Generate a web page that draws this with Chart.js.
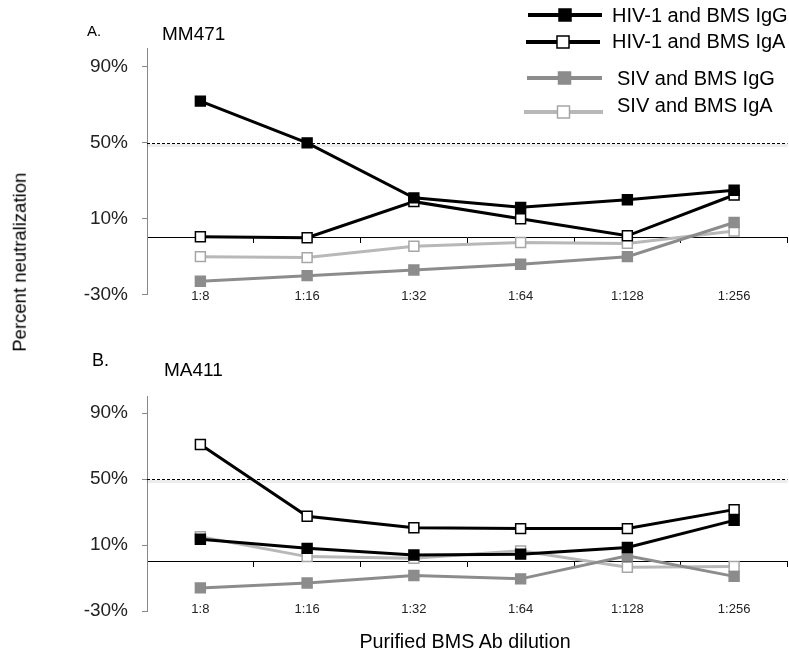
<!DOCTYPE html>
<html>
<head>
<meta charset="utf-8">
<script src="https://cdn.jsdelivr.net/npm/chart.js@4.4.1/dist/chart.umd.min.js"></script>
<style>
  body { margin: 0; background: #fff; overflow: hidden; font-family: "Liberation Sans", Arial, sans-serif; }
  #wrap { position: relative; width: 789px; height: 653px; overflow: hidden; }
  canvas { position: absolute; left: 0; }
  #chartA { top: 0; }
  #chartB { top: 320px; }
  .txt { position: absolute; color: #000; white-space: nowrap; line-height: 1; }
</style>
</head>
<body>
<div id="wrap">
  <canvas id="chartA" width="796" height="320"></canvas>
  <canvas id="chartB" width="796" height="333"></canvas>

  <div class="txt" style="left:87px;top:23px;font-size:15px;">A.</div>
  <div class="txt" style="left:162px;top:24px;font-size:19px;">MM471</div>
  <div class="txt" style="left:92px;top:351px;font-size:18px;">B.</div>
  <div class="txt" style="left:164px;top:360px;font-size:19px;">MA411</div>

  <div class="txt" style="left:-130px;top:253px;width:300px;text-align:center;font-size:18.5px;transform:rotate(-90deg);">Percent neutralization</div>
  <div class="txt" style="left:315px;top:632px;width:300px;text-align:center;font-size:19.7px;">Purified BMS Ab dilution</div>
</div>

<script>
const dilutions = ['1:8', '1:16', '1:32', '1:64', '1:128', '1:256'];
const yTicks = [-30, 10, 50, 90];
const refLineValue = 50;
const seriesNames = ['HIV-1 and BMS IgG', 'HIV-1 and BMS IgA', 'SIV and BMS IgG', 'SIV and BMS IgA'];

// A. MM471 (percent neutralization)
const mm471HivIgG = [72, 50, 21, 16, 20, 25];
const mm471HivIgA = [0.5, 0, 19, 10, 1, 22.5];
const mm471SivIgG = [-23, -20, -17, -14, -10, 8];
const mm471SivIgA = [-10, -10.5, -4.5, -2.5, -3, 3.5];

// B. MA411
const ma411HivIgG = [13.5, 8, 4, 4.5, 8.5, 25];
const ma411HivIgA = [71, 27.5, 20.5, 20, 20, 31.5];
const ma411SivIgG = [-16, -13, -8.5, -10.5, 3.5, -9];
const ma411SivIgA = [15, 3, 2, 6.5, -3.5, -3];

Chart.defaults.font.family = '"Liberation Sans", Arial, sans-serif';
Chart.defaults.color = '#222';

const seriesStyles = [
  { line: '#000000', fill: '#000000', edge: '#000000' },
  { line: '#000000', fill: '#ffffff', edge: '#000000' },
  { line: '#8c8c8c', fill: '#8c8c8c', edge: '#8c8c8c' },
  { line: '#b8b8b8', fill: '#ffffff', edge: '#a6a6a6' }
];

// legend layout, top right of panel A
const legendRows = [
  { x1: 528, x2: 602, lineY: 15, textX: 612, textY: 16 },
  { x1: 526, x2: 600, lineY: 42, textX: 612, textY: 42 },
  { x1: 527, x2: 602, lineY: 78, textX: 617, textY: 79 },
  { x1: 524, x2: 603, lineY: 112, textX: 617, textY: 106 }
];

const refLinePlugin = {
  id: 'refLine',
  beforeDatasetsDraw(chart) {
    const { ctx, chartArea, scales } = chart;
    const y = Math.round(scales.y.getPixelForValue(refLineValue)) + 0.5;
    ctx.save();
    // faint shadow under the dashed line
    ctx.strokeStyle = 'rgba(0,0,0,0.07)';
    ctx.lineWidth = 3;
    ctx.beginPath();
    ctx.moveTo(chartArea.left, y + 2);
    ctx.lineTo(chartArea.right, y + 2);
    ctx.stroke();
    ctx.setLineDash([3, 2]);
    ctx.strokeStyle = '#000';
    ctx.lineWidth = 1;
    ctx.beginPath();
    ctx.moveTo(chartArea.left, y);
    ctx.lineTo(chartArea.right, y);
    ctx.stroke();
    ctx.restore();
  }
};

const cornerLegend = {
  id: 'cornerLegend',
  afterDraw(chart) {
    const ctx = chart.ctx;
    chart.data.datasets.forEach((ds, i) => {
      const row = legendRows[i];
      ctx.save();
      ctx.strokeStyle = ds.borderColor;
      ctx.lineWidth = 4;
      ctx.beginPath();
      ctx.moveTo(row.x1, row.lineY);
      ctx.lineTo(row.x2, row.lineY);
      ctx.stroke();
      ctx.fillStyle = ds.pointBackgroundColor;
      ctx.strokeStyle = ds.pointBorderColor;
      ctx.lineWidth = 1.5;
      Chart.helpers.drawPoint(ctx, { pointStyle: 'rect', radius: 8.5, borderWidth: 1.5, rotation: 0 },
        (row.x1 + row.x2) / 2, row.lineY);
      ctx.fillStyle = '#000';
      ctx.font = '20px "Liberation Sans", Arial, sans-serif';
      ctx.textBaseline = 'middle';
      ctx.fillText(ds.label, row.textX, row.textY);
      ctx.restore();
    });
  }
};

function makeChart(id, seriesValues, padTop, padBottom, labelPad, withLegend) {
  return new Chart(document.getElementById(id), {
    type: 'line',
    data: {
      labels: dilutions,
      datasets: seriesValues.map((vals, i) => ({
        label: seriesNames[i],
        data: vals,
        borderColor: seriesStyles[i].line,
        backgroundColor: seriesStyles[i].fill,
        pointBackgroundColor: seriesStyles[i].fill,
        pointBorderColor: seriesStyles[i].edge,
        borderWidth: 3,
        pointStyle: 'rect',
        pointRadius: 7,
        pointBorderWidth: 1.5,
        tension: 0,
        fill: false,
        clip: false
      }))
    },
    options: {
      responsive: false,
      animation: false,
      events: [],
      layout: { padding: { top: padTop, left: 0, right: 0, bottom: padBottom } },
      plugins: {
        legend: { display: false },
        tooltip: { enabled: false }
      },
      scales: {
        // dilution labels, sitting at the -30% level
        x: {
          type: 'category',
          position: { y: -30 },
          offset: true,
          grid: { display: false, drawTicks: false },
          border: { display: false },
          ticks: { padding: labelPad, color: '#222', font: { size: 13 } }
        },
        // the zero line with its tick marks
        x0: {
          type: 'category',
          axis: 'x',
          position: { y: 0 },
          offset: true,
          grid: { offset: true, drawOnChartArea: false, tickLength: 5, color: '#000' },
          border: { display: true, color: '#000', width: 1 },
          ticks: { display: false }
        },
        y: {
          min: -30,
          max: 100,
          position: 'left',
          afterBuildTicks: (s) => { s.ticks = yTicks.map(v => ({ value: v })); },
          afterFit: (s) => { s.width = 147; },
          grid: { drawOnChartArea: false, tickLength: 5, color: '#888' },
          border: { color: '#888', width: 1 },
          ticks: { padding: 14, color: '#222', font: { size: 19 }, callback: (v) => v + '%' }
        }
      }
    },
    plugins: withLegend ? [refLinePlugin, cornerLegend] : [refLinePlugin]
  });
}

makeChart('chartA', [mm471HivIgG, mm471HivIgA, mm471SivIgG, mm471SivIgA], 48, 22.3, -6, true);
makeChart('chartB', [ma411HivIgG, ma411HivIgA, ma411SivIgG, ma411SivIgA], 76.7, 42, -9, false);
</script>
</body>
</html>
